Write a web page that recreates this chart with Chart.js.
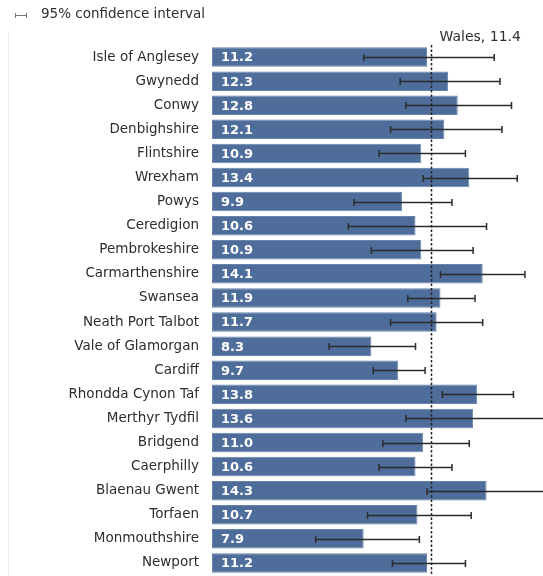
<!DOCTYPE html>
<html>
<head>
<meta charset="utf-8">
<script src="https://cdn.jsdelivr.net/npm/chart.js@4/dist/chart.umd.min.js"></script>
<style>
	html, body { margin: 0; padding: 0; background: #fff; overflow: hidden; }
	#wrap { position: relative; width: 543px; height: 576px; }
</style>
</head>
<body>
<div id="wrap"><canvas id="chartAuthorities"></canvas></div>
<script>
'use strict';

const areas = [
	'Isle of Anglesey', 'Gwynedd', 'Conwy', 'Denbighshire', 'Flintshire', 'Wrexham',
	'Powys', 'Ceredigion', 'Pembrokeshire', 'Carmarthenshire', 'Swansea',
	'Neath Port Talbot', 'Vale of Glamorgan', 'Cardiff', 'Rhondda Cynon Taf',
	'Merthyr Tydfil', 'Bridgend', 'Caerphilly', 'Blaenau Gwent', 'Torfaen',
	'Monmouthshire', 'Newport'
];

const rates = [11.2, 12.3, 12.8, 12.1, 10.9, 13.4, 9.9, 10.6, 10.9, 14.1, 11.9, 11.7, 8.3, 9.7, 13.8, 13.6, 11.0, 10.6, 14.3, 10.7, 7.9, 11.2];

// 95% confidence interval, lower and upper bounds
const ciLower = [7.9, 9.8, 10.1, 9.3, 8.7, 11.0, 7.4, 7.1, 8.3, 11.9, 10.2, 9.3, 6.1, 8.4, 12.0, 10.1, 8.9, 8.7, 11.2, 8.1, 5.4, 9.4];
const ciUpper = [14.7, 15.0, 15.6, 15.1, 13.2, 15.9, 12.5, 14.3, 13.6, 16.3, 13.7, 14.1, 10.6, 11.1, 15.7, 17.6, 13.4, 12.5, 17.9, 13.5, 10.8, 13.2];

const walesLabel = 'Wales';
const walesRate = 11.4;

const FONT = "'DejaVu Sans', Verdana, sans-serif";
const TEXT = '#2e2e2e';

const overlayPlugin = {
	id: 'overlay',
	beforeDatasetsDraw: chart => {
		const ctx = chart.ctx;
		// faint frame line on the left edge
		ctx.save();
		ctx.strokeStyle = '#f0f0f0';
		ctx.lineWidth = 1;
		ctx.beginPath();
		ctx.moveTo(8.5, 30);
		ctx.lineTo(8.5, chart.height);
		ctx.stroke();
		ctx.restore();
	},
	afterDatasetsDraw: chart => {
		const ctx = chart.ctx;
		const xs = chart.scales.x;
		const area = chart.chartArea;
		const meta = chart.getDatasetMeta(0);

		ctx.save();

		// values inside bars
		ctx.fillStyle = '#ffffff';
		ctx.font = 'bold 13px ' + FONT;
		ctx.textAlign = 'left';
		ctx.textBaseline = 'middle';
		meta.data.forEach((bar, i) => {
			ctx.fillText(rates[i].toFixed(1), bar.base + 9, bar.y + 1);
		});

		// confidence interval whiskers
		ctx.strokeStyle = '#2b2b2b';
		ctx.lineWidth = 1.5;
		meta.data.forEach((bar, i) => {
			const x1 = xs.getPixelForValue(ciLower[i]);
			const x2 = xs.getPixelForValue(ciUpper[i]);
			const y = Math.round(bar.y) + 0.5;
			ctx.beginPath();
			ctx.moveTo(x1, y);
			ctx.lineTo(x2, y);
			ctx.moveTo(x1, y - 3.5);
			ctx.lineTo(x1, y + 3.5);
			ctx.moveTo(x2, y - 3.5);
			ctx.lineTo(x2, y + 3.5);
			ctx.stroke();
		});

		// Wales average line
		const wx = Math.round(xs.getPixelForValue(walesRate)) + 0.5;
		ctx.strokeStyle = '#222222';
		ctx.lineWidth = 1.5;
		ctx.setLineDash([2.5, 2]);
		ctx.beginPath();
		ctx.moveTo(wx, area.top);
		ctx.lineTo(wx, chart.height);
		ctx.stroke();
		ctx.setLineDash([]);

		ctx.fillStyle = TEXT;
		ctx.font = '14px ' + FONT;
		ctx.textBaseline = 'middle';
		ctx.fillText(walesLabel + ', ' + walesRate.toFixed(1), wx + 8, 37);

		// legend for whiskers
		ctx.strokeStyle = '#777777';
		ctx.lineWidth = 1;
		ctx.beginPath();
		ctx.moveTo(15, 15.5);
		ctx.lineTo(27, 15.5);
		ctx.moveTo(15.5, 13);
		ctx.lineTo(15.5, 18);
		ctx.moveTo(26.5, 13);
		ctx.lineTo(26.5, 18);
		ctx.stroke();
		ctx.fillStyle = TEXT;
		ctx.font = '13.5px ' + FONT;
		ctx.fillText('95% confidence interval', 41, 14);

		ctx.restore();
	}
};

const chartAuthorities = new Chart(document.getElementById('chartAuthorities').getContext('2d'), {
	type: 'bar',
	data: {
		labels: areas,
		datasets: [
			{
				data: rates,
				backgroundColor: '#4e6d9b',
				borderColor: '#6884ad',
				borderWidth: 1,
				borderSkipped: false,
				categoryPercentage: 0.81,
				barPercentage: 1
			}
		]
	},
	options: {
		indexAxis: 'y',
		responsive: true,
		maintainAspectRatio: false,
		animation: false,
		layout: {
			padding: { top: 45, bottom: 1, left: 0, right: 0 }
		},
		plugins: {
			legend: { display: false },
			tooltip: { enabled: false }
		},
		scales: {
			x: {
				display: false,
				min: 0,
				max: 17.24
			},
			y: {
				grid: { display: false, drawTicks: false },
				border: { display: false },
				afterFit: scale => {
					scale.width = 212;
					// the labels need no extra room above or below the bars
					scale.paddingTop = 0;
					scale.paddingBottom = 0;
				},
				ticks: {
					padding: 13,
					color: TEXT,
					font: { family: FONT, size: 13.5 }
				}
			}
		}
	},
	plugins: [overlayPlugin]
});
</script>
</body>
</html>
